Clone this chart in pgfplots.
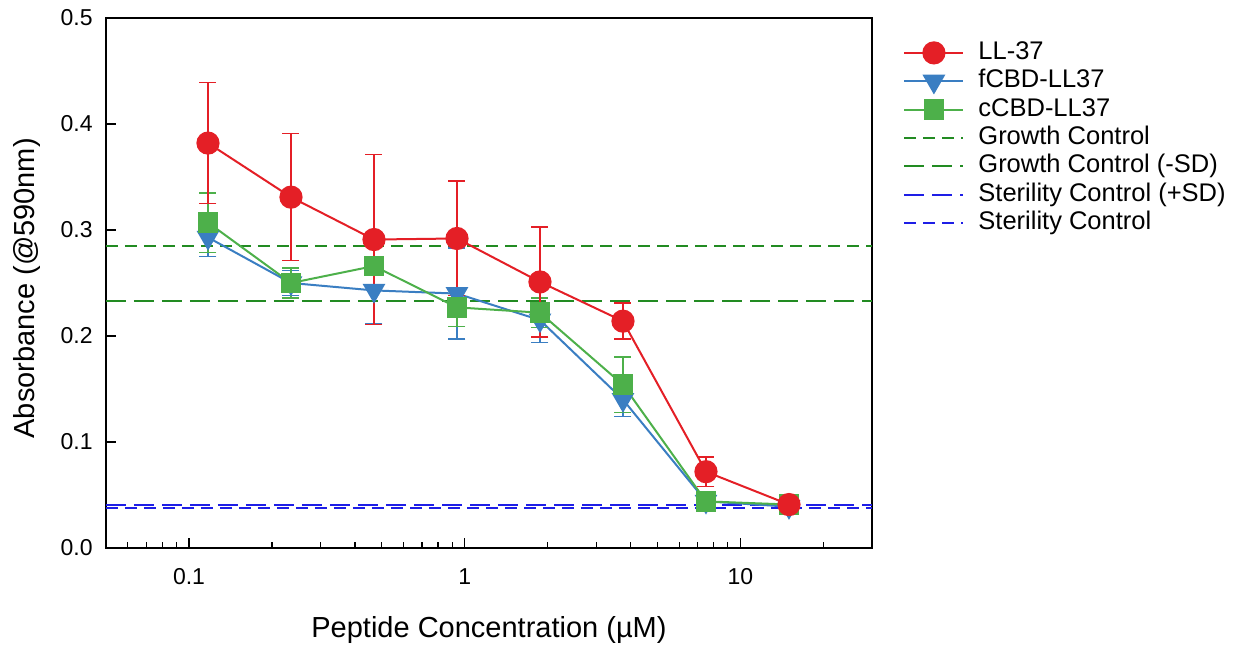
\documentclass[border=0pt]{standalone}
\usepackage{fontspec}
\setmainfont{Liberation Sans}
\usepackage{pgfplots}
\pgfplotsset{compat=1.18}

\definecolor{llred}{RGB}{228,31,38}
\definecolor{fblue}{RGB}{58,126,194}
\definecolor{cgreen}{RGB}{77,176,74}
\definecolor{dgreen}{RGB}{34,139,34}
\definecolor{dblue}{RGB}{30,30,230}

% x = concentration (uM), y = absorbance, e = SD
\pgfplotstableread{
x y e
0.1171875 0.382 0.057
0.234375 0.331 0.060
0.46875 0.291 0.080
0.9375 0.292 0.054
1.875 0.251 0.052
3.75 0.214 0.017
7.5 0.072 0.014
15 0.041 0.003
}\llthirtyseven
\pgfplotstableread{
x y e
0.1171875 0.293 0.018
0.234375 0.250 0.012
0.46875 0.243 0.031
0.9375 0.240 0.043
1.875 0.215 0.021
3.75 0.140 0.016
7.5 0.044 0.002
15 0.039 0.003
}\fcbd
\pgfplotstableread{
x y e
0.1171875 0.307 0.028
0.234375 0.250 0.014
0.46875 0.266 0.004
0.9375 0.227 0.018
1.875 0.222 0.014
3.75 0.154 0.026
7.5 0.044 0.003
15 0.041 0.002
}\ccbd

\begin{document}
\begin{tikzpicture}
\useasboundingbox (0,0) rectangle (618pt,324.5pt);
\begin{axis}[
    at={(53pt,50.5pt)}, anchor=south west,
    scale only axis,
    width=383pt, height=265pt,
    xmode=log,
    xmin=0.05, xmax=30,
    ymin=0, ymax=0.5,
    xtick={0.1,1,10},
    xticklabels={0.1,1,10},
    minor xtick={0.06,0.07,0.08,0.09,0.2,0.3,0.4,0.5,0.6,0.7,0.8,0.9,2,3,4,5,6,7,8,9,20,30},
    ytick={0,0.1,0.2,0.3,0.4,0.5},
    /pgf/number format/assume math mode=true,
    yticklabel style={/pgf/number format/fixed, /pgf/number format/fixed zerofill, /pgf/number format/precision=1},
    tick align=inside,
    tick pos=left,
    major tick length=5pt,
    minor tick length=3pt,
    axis line style={line width=1pt},
    every tick/.style={black, line width=0.6pt},
    tick label style={font=\fontsize{11.5}{13}\selectfont, inner sep=0pt},
    xticklabel style={yshift=-10pt},
    yticklabel style={xshift=-6.5pt},
    xlabel={Peptide Concentration (µM)},
    ylabel={Absorbance (@590nm)},
    label style={font=\fontsize{14.5}{16}\selectfont},
    xlabel style={at={(axis description cs:0.5,-0.168)}, anchor=base},
    ylabel style={at={(axis description cs:-0.0927,0.49)}, anchor=base},
    legend style={
        at={(axis description cs:1.0405,0.9585)}, anchor=north west,
        draw=none, fill=none, inner sep=0pt,
        font=\fontsize{12.75}{14}\selectfont,
        row sep=1.7pt, column sep=7pt,
        nodes={inner sep=0pt, text height=9.5pt, text depth=3pt},
    },
    legend cell align=left,
    legend image code/.code={
        \draw[mark repeat=2, mark phase=2] plot coordinates {(0pt,0pt) (14.75pt,0pt) (29.5pt,0pt)};
    },
    error bars/error bar style={line width=0.75pt},
    error bars/error mark=-,
    error bars/error mark options={rotate=90, line width=0.75pt, mark size=4.25pt},
]
% control lines
\addplot[forget plot, dgreen, line width=1pt, dash pattern=on 6pt off 3.5pt] coordinates {(0.05,0.285) (30,0.285)};
\addplot[forget plot, dgreen, line width=1pt, dash pattern=on 10pt off 4pt] coordinates {(0.05,0.233) (30,0.233)};
\addplot[forget plot, dblue, line width=1pt, dash pattern=on 10pt off 4pt] coordinates {(0.05,0.041) (30,0.041)};
\addplot[forget plot, dblue, line width=1pt, dash pattern=on 6pt off 3.5pt] coordinates {(0.05,0.038) (30,0.038)};

% peptides
\addplot[forget plot, fblue, line width=1pt, mark=triangle*, mark size=5.6pt, mark options={rotate=180, solid},
    error bars/.cd, y dir=both, y explicit]
    table[x=x, y=y, y error=e] {\fcbd};
\addplot[forget plot, cgreen, line width=1pt, mark=square*, mark size=4.7pt, mark options={solid},
    error bars/.cd, y dir=both, y explicit]
    table[x=x, y=y, y error=e] {\ccbd};
\addplot[forget plot, llred, line width=1pt, mark=*, mark size=5.3pt, mark options={solid},
    error bars/.cd, y dir=both, y explicit]
    table[x=x, y=y, y error=e] {\llthirtyseven};

\addlegendimage{llred, line width=1pt, mark=*, mark size=5.3pt}
\addlegendentry{LL-37}
\addlegendimage{fblue, line width=1pt, mark=triangle*, mark size=5.6pt, mark options={rotate=180}}
\addlegendentry{fCBD-LL37}
\addlegendimage{cgreen, line width=1pt, mark=square*, mark size=4.7pt}
\addlegendentry{cCBD-LL37}
\addlegendimage{dgreen, line width=1pt, dash pattern=on 6pt off 3.5pt}
\addlegendentry{Growth Control}
\addlegendimage{dgreen, line width=1pt, dash pattern=on 10pt off 4pt}
\addlegendentry{Growth Control (-SD)}
\addlegendimage{dblue, line width=1pt, dash pattern=on 10pt off 4pt}
\addlegendentry{Sterility Control (+SD)}
\addlegendimage{dblue, line width=1pt, dash pattern=on 6pt off 3.5pt}
\addlegendentry{Sterility Control}
\end{axis}
\end{tikzpicture}
\end{document}
